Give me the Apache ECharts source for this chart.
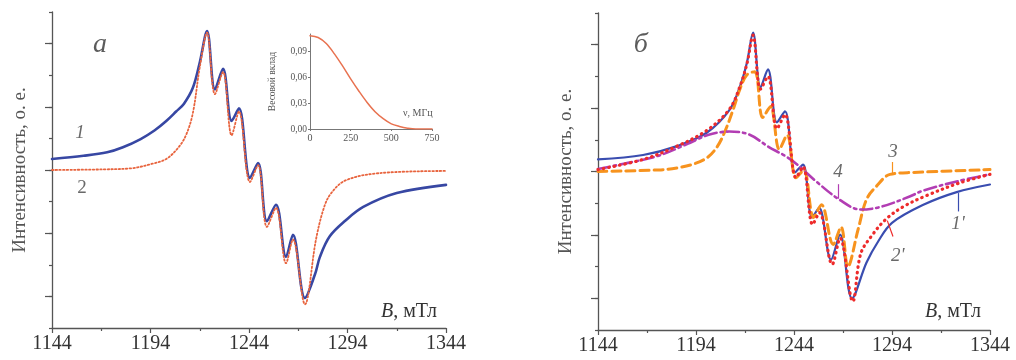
<!DOCTYPE html>
<html><head><meta charset="utf-8">
<script src="https://cdn.jsdelivr.net/npm/echarts@6/dist/echarts.min.js"></script>
<style>html,body{margin:0;padding:0;background:#fff}#c{width:1016px;height:360px}</style>
</head><body><div id="c"></div>
<script>
// ---------- data ----------
const xTicks = [1144, 1194, 1244, 1294, 1344];
const insetXTicks = [0, 250, 500, 750];
const insetYTicks = [0, 0.03, 0.06, 0.09];

// panel a, curve 1 (blue, experiment)
const a1B = [1144,1160,1172,1180,1189,1196,1202,1207,1211,1215.5,1219,1222.7,1226.7,1230.8,1235.2,1238.9,1244.5,1248.6,1253.1,1257.7,1262.8,1266.3,1272.4,1277.5,1280,1285,1293,1302,1319,1344];
const a1I = [0.35,0.45,0.56,0.72,0.98,1.25,1.55,1.85,2.1,2.6,3.4,4.4,2.55,3.2,1.55,1.95,-0.25,0.22,-1.62,-1.1,-2.75,-2.05,-4.05,-3.3,-2.75,-2.1,-1.6,-1.17,-0.73,-0.47];
// panel a, curve 2 (red dotted, model)
const a2B = [1144,1170,1185,1195,1202,1208,1212,1215.5,1219,1222.7,1226.7,1230.8,1235.2,1238.9,1244.5,1248.6,1253.1,1257.7,1262.8,1266.3,1272.4,1278,1282,1285.5,1293,1310,1344];
const a2I = [0,0.02,0.06,0.2,0.35,0.7,1.1,1.8,3.25,4.35,2.4,3.1,1.1,1.85,-0.38,0.15,-1.8,-1.2,-2.95,-2.2,-4.25,-2.2,-1.2,-0.75,-0.33,-0.1,-0.03];
// inset: weight vs frequency
const insNu = [0,50,100,150,200,250,300,350,400,450,500,550,600,650,700,750];
const insW  = [0.108,0.106,0.099,0.087,0.073,0.058,0.044,0.031,0.020,0.012,0.006,0.003,0.001,0,0,0];

// panel b, curve 1' (blue)
const b1B = [1144,1167,1184.3,1199.6,1211.3,1216.4,1220,1223.1,1226.9,1230.7,1235.3,1239.4,1244.5,1248.6,1253.2,1256.8,1262.9,1267.5,1273.6,1281,1287,1294,1310,1327,1344];
const b1I = [0.38,0.52,0.8,1.23,1.96,2.68,3.44,4.38,2.65,3.22,1.55,1.9,-0.03,0.22,-1.45,-1.15,-2.78,-1.99,-4.0,-2.87,-2.2,-1.62,-1.05,-0.65,-0.41];
// panel b, curve 2' (red dotted)
const b2B = [1144,1167,1184,1199.6,1211,1216.4,1220,1223.1,1226.9,1230.7,1235.3,1239.4,1245,1248.6,1253.5,1257,1263.5,1267.5,1274,1278,1284,1291,1300,1312,1329,1344];
const b2I = [0.06,0.38,0.79,1.3,1.96,2.68,3.4,4.3,2.6,3.0,1.35,1.8,-0.19,0.15,-1.67,-1.3,-2.93,-2.1,-4.1,-2.6,-2.0,-1.5,-1.1,-0.75,-0.35,-0.09];
// panel b, curve 3 (orange dashed, narrow component)
const b3B = [1144,1175,1185,1193,1200,1205,1209,1213,1216.4,1220,1224,1228,1232,1236.5,1240.5,1245,1249,1254,1258,1264,1268,1271.5,1276.7,1281,1286,1293,1305,1344];
const b3I = [0,0.05,0.12,0.24,0.45,0.8,1.3,1.96,2.6,3.05,3.15,1.7,2.05,0.7,1.15,-0.2,0.05,-1.45,-1.05,-2.3,-1.75,-3.0,-1.83,-0.88,-0.47,-0.09,-0.03,0.06];
// panel b, curve 4 (purple dash-dot, broad component)
const b4B = [1144,1160,1175,1190,1200,1211,1221,1231,1240,1246,1256,1267,1278,1288,1303,1310,1328,1344];
const b4I = [0.08,0.28,0.5,0.88,1.15,1.26,1.17,0.78,0.47,0.2,-0.35,-0.88,-1.2,-1.12,-0.79,-0.6,-0.3,-0.09];

// annotations (data coordinates)
const annA = {text:['а','1','2'], B:[1168.4,1158.2,1159.2], I:[3.96,1.17,-0.57]};
const annB = {text:['б','3','4',"2'","1'"], B:[1165.8,1294.5,1266.4,1297,1327.7], I:[4.0,0.63,0,-2.68,-1.67]};

// ---------- build ----------
const zip = (xs, ys) => xs.map((x, i) => [x, ys[i]]);
const SERIF = 'Liberation Serif';
const AX = '#555';

const grids = [
  {left:52, top:12, width:394, height:316},
  {left:598, top:13, width:392, height:317},
  {left:52, top:12+31.6, width:394, height:8*31.6},
  {left:598, top:13+31.7, width:392, height:8*31.7},
  {left:310, top:34, width:122, height:95}
];

function xMain(gi){
  return {type:'value', gridIndex:gi, min:xTicks[0], max:xTicks[xTicks.length-1], interval:xTicks[1]-xTicks[0],
    axisLine:{show:true, onZero:false, lineStyle:{color:AX, width:1.3}},
    axisTick:{show:true, length:5, lineStyle:{color:AX, width:1.2}},
    minorTick:{show:true, splitNumber:2, length:3, lineStyle:{color:AX, width:1.2}},
    axisLabel:{show:true, fontFamily:SERIF, fontSize:20, color:'#333', margin:6, formatter: v => String(Math.round(v))},
    splitLine:{show:false}};
}
function yMain(gi){
  return {type:'value', gridIndex:gi, min:-5, max:5, interval:1,
    axisLine:{show:true, onZero:false, lineStyle:{color:AX, width:1.3}},
    axisTick:{show:true, length:3, lineStyle:{color:AX, width:1.2}},
    axisLabel:{show:false}, splitLine:{show:false},
    name:'Интенсивность, о. е.', nameLocation:'middle', nameGap:22,
    nameTextStyle:{fontFamily:SERIF, fontSize:19, color:'#555'}};
}
function xHidden(gi){ return {type:'value', gridIndex:gi, min:0, max:1, show:false}; }
function yMajor(gi){
  return {type:'value', gridIndex:gi, min:-4, max:4, interval:2,
    axisLine:{show:false}, axisTick:{show:true, length:7, lineStyle:{color:AX, width:1.2}},
    axisLabel:{show:false}, splitLine:{show:false}};
}

function line(name, xi, yi, data, color, width, type, extra){
  return Object.assign({name, type:'line', xAxisIndex:xi, yAxisIndex:yi, data, showSymbol:false, symbol:'none',
    smooth:0.35, clip:true, silent:true,
    lineStyle:{color, width, type: type || 'solid', cap:'round', join:'round'}}, extra || {});
}
function arrow(color, from, to){
  return {symbol:['none','arrow'], symbolSize:[0,6], silent:true, animation:false,
    lineStyle:{color, width:1.2, type:'solid'}, label:{show:false},
    data:[[{coord:from},{coord:to}]]};
}
function annSeries(xi, yi, ann, styles){
  return {type:'scatter', xAxisIndex:xi, yAxisIndex:yi, symbolSize:1, silent:true,
    itemStyle:{color:'rgba(0,0,0,0)'},
    data: ann.text.map((t,i)=>({value:[ann.B[i], ann.I[i]], label:Object.assign({show:true, position:'inside', formatter:t,
      fontFamily:SERIF, fontStyle:'italic', fontSize:19, color:'#444'}, styles[i]||{})}))};
}

const option = {
  animation:false,
  backgroundColor:'#fff',
  grid: grids,
  xAxis: [xMain(0), xMain(1), xHidden(2), xHidden(3),
    {type:'value', gridIndex:4, min:insetXTicks[0], max:insetXTicks[3], interval:insetXTicks[1]-insetXTicks[0],
      axisLine:{show:true, onZero:false, lineStyle:{color:'#777', width:1}},
      axisTick:{show:true, length:2, lineStyle:{color:'#777'}},
      axisLabel:{fontFamily:SERIF, fontSize:10, color:'#555', margin:4}, splitLine:{show:false}}],
  yAxis: [yMain(0), yMain(1), yMajor(2), yMajor(3),
    {type:'value', gridIndex:4, min:insetYTicks[0], max:0.11, interval:insetYTicks[1]-insetYTicks[0],
      axisLine:{show:true, lineStyle:{color:'#777', width:1}},
      axisTick:{show:true, length:2, lineStyle:{color:'#777'}},
      axisLabel:{fontFamily:SERIF, fontSize:9.5, color:'#555', margin:3, showMaxLabel:false,
        formatter: v => (Math.abs(v/0.03 - Math.round(v/0.03))<1e-6) ? v.toFixed(2).replace('.', ',') : ''},
      splitLine:{show:false},
      name:'Весовой вклад', nameLocation:'middle', nameGap:33,
      nameTextStyle:{fontFamily:SERIF, fontSize:9.5, color:'#555'}}],
  series: [
    line('1', 0, 0, zip(a1B, a1I), '#3747a3', 2.6),
    line('2', 0, 0, zip(a2B, a2I), '#e8643e', 1.8, [1.5, 2.2]),
    line('inset', 4, 4, zip(insNu, insW), '#e87250', 1.5),
    line("1'", 1, 1, zip(b1B, b1I), '#3a4db0', 2.2, 'solid',
      {markLine: arrow('#3a4db0', [1327.7,-1.26], [1327.7,-0.68])}),
    line('3', 1, 1, zip(b3B, b3I), '#f7931e', 3, [9, 5],
      {markLine: arrow('#f7931e', [1294,0.3], [1294,-0.05])}),
    line('4', 1, 1, zip(b4B, b4I), '#b23db3', 2.6, [12, 4, 2.5, 4],
      {markLine: arrow('#b23db3', [1266.4,-0.4], [1266.4,-0.86])}),
    line("2'", 1, 1, zip(b2B, b2I), '#ee2b2b', 3.2, [0.5, 5],
      {markLine: arrow('#ee2b2b', [1294.5,-2.05], [1291.6,-1.55])}),
    annSeries(0, 0, annA, [{fontSize:28, color:'#333'}, {}, {fontStyle:'normal'}]),
    annSeries(1, 1, annB, [{fontSize:28, color:'#333'}])
  ],
  graphic: [
    {type:'text', right:1016-437, top:302, style:{text:'{i|B}, мТл', fill:'#333', font:'20px "Liberation Serif"',
      rich:{i:{fontStyle:'italic', fontFamily:SERIF, fontSize:20, fill:'#333'}}}},
    {type:'text', right:1016-981, top:302, style:{text:'{i|B}, мТл', fill:'#333', font:'20px "Liberation Serif"',
      rich:{i:{fontStyle:'italic', fontFamily:SERIF, fontSize:20, fill:'#333'}}}},
    {type:'text', left:403, top:108, style:{text:'ν, МГц', fill:'#555', font:'10px "Liberation Serif"'}}
  ]
};
const chart = echarts.init(document.getElementById('c'), null, {renderer:'canvas'});
chart.setOption(option);
</script></body></html>
